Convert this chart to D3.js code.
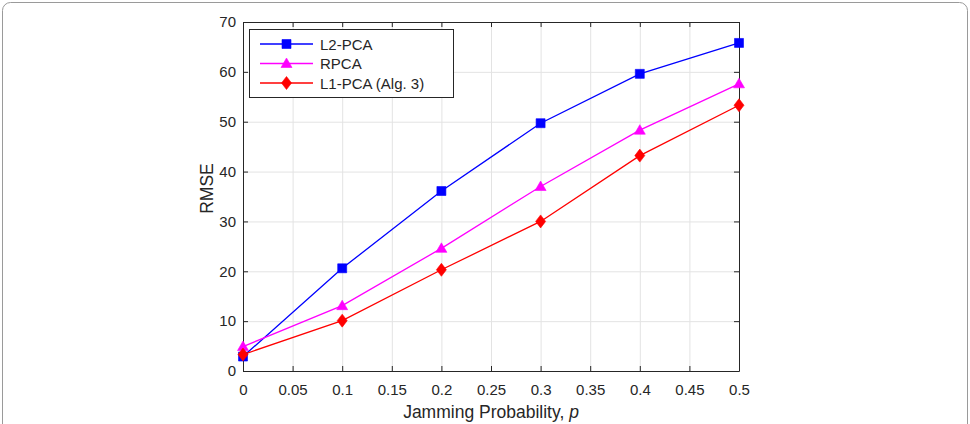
<!DOCTYPE html>
<html>
<head>
<meta charset="utf-8">
<script src="https://cdn.jsdelivr.net/npm/d3@7"></script>
<style>
  body { margin: 0; background: #fff; }
  text { font-family: "Liberation Sans", Arial, sans-serif; fill: #262626; }
</style>
</head>
<body>
<div id="chart"></div>
<script>
// data
var probs = [0, 0.1, 0.2, 0.3, 0.4, 0.5];
var l2pca = [2.9, 20.6, 36.1, 49.7, 59.6, 65.8];
var rpca = [4.9, 13.1, 24.6, 37.0, 48.3, 57.6];
var l1pca = [3.3, 10.1, 20.3, 30.0, 43.2, 53.3];
var xTicks = [0, 0.05, 0.1, 0.15, 0.2, 0.25, 0.3, 0.35, 0.4, 0.45, 0.5];
var yTicks = [0, 10, 20, 30, 40, 50, 60, 70];

var series = [
  {name: "L2-PCA", values: l2pca, color: "#0000ff", marker: "square"},
  {name: "RPCA", values: rpca, color: "#ff00ff", marker: "triangle"},
  {name: "L1-PCA (Alg. 3)", values: l1pca, color: "#ff0000", marker: "diamond"}
];

var W = 970, H = 424;
var margin = {top: 22, right: 231, bottom: 53, left: 243},
    width = W - margin.left - margin.right,
    height = H - margin.top - margin.bottom;

var root = d3.select("#chart")
  .append("svg")
    .attr("width", W)
    .attr("height", H);

// outer frame
root.append("rect")
  .attr("x", 2.5).attr("y", 2.5)
  .attr("width", W - 5).attr("height", H + 20)
  .attr("rx", 8)
  .attr("fill", "none")
  .attr("stroke", "#9a9a9a")
  .attr("stroke-width", 1);

var svg = root.append("g")
  .attr("transform", "translate(" + margin.left + "," + margin.top + ")");

var x = d3.scaleLinear().domain([0, 0.5]).range([0, width]);
var y = d3.scaleLinear().domain([0, 70]).range([height, 0]);

// grid
svg.append("g").selectAll("line")
  .data(xTicks)
  .enter().append("line")
    .attr("x1", d => x(d) + 0.5).attr("x2", d => x(d) + 0.5)
    .attr("y1", 0).attr("y2", height)
    .attr("stroke", "#e3e3e3");
svg.append("g").selectAll("line")
  .data(yTicks)
  .enter().append("line")
    .attr("y1", d => y(d) + 0.5).attr("y2", d => y(d) + 0.5)
    .attr("x1", 0).attr("x2", width)
    .attr("stroke", "#e3e3e3");

// axes (ticks inward, box on)
function styleAxis(g) {
  g.selectAll("path").attr("stroke", "#262626");
  g.selectAll("line").attr("stroke", "#262626");
  g.selectAll("text").attr("font-size", "15px").attr("fill", "#262626")
    .attr("font-family", "'Liberation Sans', Arial, sans-serif");
}
svg.append("g")
  .attr("transform", "translate(0," + height + ")")
  .call(d3.axisBottom(x).tickValues(xTicks).tickSizeInner(-5).tickSizeOuter(0).tickPadding(13).tickFormat(d3.format("")))
  .call(styleAxis);
svg.append("g")
  .call(d3.axisTop(x).tickValues(xTicks).tickSizeInner(-5).tickSizeOuter(0).tickFormat(""))
  .call(styleAxis);
svg.append("g")
  .call(d3.axisLeft(y).tickValues(yTicks).tickSizeInner(-5).tickSizeOuter(0).tickPadding(7))
  .call(styleAxis);
svg.append("g")
  .attr("transform", "translate(" + width + ",0)")
  .call(d3.axisRight(y).tickValues(yTicks).tickSizeInner(-5).tickSizeOuter(0).tickFormat(""))
  .call(styleAxis);

// markers, MATLAB-like shapes
var shapes = {
  square: "M-4.5,-4.5H4.5V4.5H-4.5Z",
  triangle: "M0,-5.5L5.5,4L-5.5,4Z",
  diamond: "M0,-6.5L5,0L0,6.5L-5,0Z"
};
function drawMarker(g, type, color) {
  g.append("path")
    .attr("d", shapes[type])
    .attr("fill", color)
    .attr("stroke", color)
    .attr("stroke-width", 0.6);
}

var line = d3.line()
  .x((d, i) => x(probs[i]))
  .y(d => y(d));

series.forEach(function(s) {
  svg.append("path")
    .datum(s.values)
    .attr("d", line)
    .attr("fill", "none")
    .attr("stroke", s.color)
    .attr("stroke-width", 1.3);
  s.values.forEach(function(v, i) {
    var g = svg.append("g").attr("transform", "translate(" + x(probs[i]) + "," + y(v) + ")");
    drawMarker(g, s.marker, s.color);
  });
});

// legend
var legend = svg.append("g").attr("transform", "translate(6,7)");
legend.append("rect")
  .attr("x", 0.5).attr("y", 0.5)
  .attr("width", 204).attr("height", 68)
  .attr("fill", "#fff")
  .attr("stroke", "#262626");
series.forEach(function(s, i) {
  var ly = 15 + i * 19.5;
  legend.append("line")
    .attr("x1", 11).attr("x2", 64)
    .attr("y1", ly).attr("y2", ly)
    .attr("stroke", s.color).attr("stroke-width", 1.3);
  var g = legend.append("g").attr("transform", "translate(37.5," + ly + ")");
  drawMarker(g, s.marker, s.color);
  legend.append("text")
    .attr("x", 71).attr("y", ly + 5.5)
    .attr("font-size", "15px")
    .text(s.name);
});

// axis labels
svg.append("text")
  .attr("text-anchor", "middle")
  .attr("x", width / 2)
  .attr("y", height + 47)
  .attr("font-size", "17.5px")
  .html("Jamming Probability, <tspan font-style='italic'>p</tspan>");

svg.append("text")
  .attr("text-anchor", "middle")
  .attr("transform", "rotate(-90)")
  .attr("x", -height / 2 + 8)
  .attr("y", -30)
  .attr("font-size", "17.5px")
  .text("RMSE");
</script>
</body>
</html>
